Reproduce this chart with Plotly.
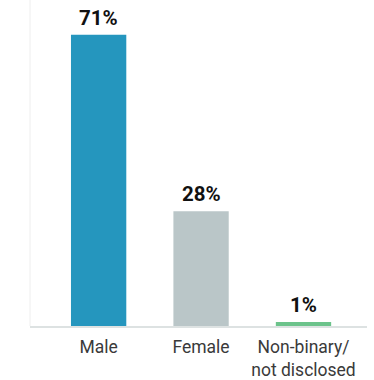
import plotly.graph_objects as go

categories = ["Male", "Female", "Non-binary/<br>not disclosed"]
values = [71, 28, 1]
labels = ["71%", "28%", "1%"]
colors = ["#2596be", "#bac6c8", "#6cc38b"]

fig = go.Figure()
fig.add_trace(go.Bar(
    x=categories, y=values, marker=dict(color=colors, line=dict(width=0)),
    width=0.54, hoverinfo="skip",
))
for c, v, t in zip(categories, values, labels):
    fig.add_annotation(x=c, y=v, text=f"<b>{t}</b>", showarrow=False,
                       yanchor="bottom", yshift=3,
                       font=dict(family="Roboto", size=20.5, color="#111111"))

fig.add_shape(type="line", xref="paper", yref="paper", x0=0, x1=0, y0=0, y1=1,
              line=dict(color="#eeeeee", width=1))

fig.update_layout(
    width=374, height=380,
    margin=dict(l=30, r=7, t=0, b=54),
    paper_bgcolor="white", plot_bgcolor="white",
    showlegend=False,
    font=dict(family="Roboto", color="#333333"),
    xaxis=dict(range=[-0.67, 2.62], showline=True, linecolor="#dde2e2", linewidth=2,
               showgrid=False, zeroline=False, ticks="",
               tickfont=dict(family="Roboto", size=17.5, color="#3a3a3a"),
               ticklabelstandoff=4),
    yaxis=dict(range=[0, 79.5], visible=False, showgrid=False, zeroline=False),
)
fig.write_html("out.html")
